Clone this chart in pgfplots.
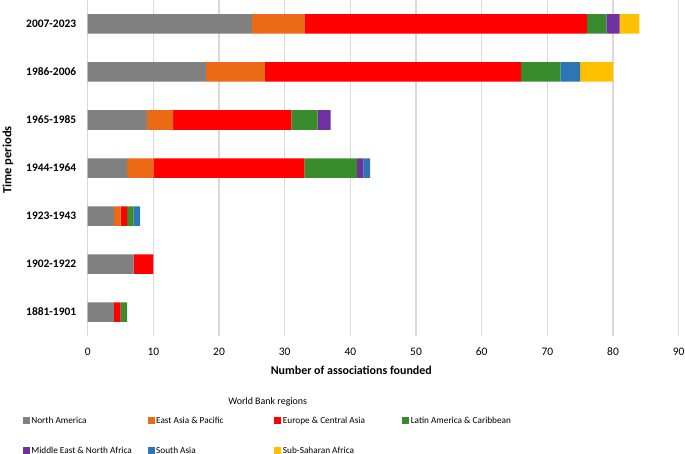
\documentclass[border=0pt]{standalone}
\usepackage{pgfplots}
\pgfplotsset{compat=1.18}
\usepackage{fontspec}
\setmainfont{Carlito}
\definecolor{cNA}{HTML}{808080}
\definecolor{cEA}{HTML}{EA6B14}
\definecolor{cEC}{HTML}{FF0000}
\definecolor{cLA}{HTML}{3A8A2E}
\definecolor{cME}{HTML}{7030A0}
\definecolor{cSA}{HTML}{2E75B6}
\definecolor{cSS}{HTML}{FFC000}
\begin{document}
\begin{tikzpicture}
\begin{axis}[
  xbar stacked,
  scale only axis,
  width=591bp, height=336bp,
  xmin=0, xmax=90,
  ymin=-0.5, ymax=6.5,
  bar width=19.5bp,
  ytick={0,1,2,3,4,5,6},
  yticklabels={1881-1901,1902-1922,1923-1943,1944-1964,1965-1985,1986-2006,2007-2023},
  yticklabel style={font=\fontsize{11.5}{13}\selectfont\bfseries, anchor=east, xshift=-8bp},
  xtick={0,10,...,90},
  xticklabel style={font=\fontsize{11.5}{13}\selectfont, anchor=center, yshift=-16bp},
  /pgf/number format/assume math mode=true,
  xmajorgrids,
  major grid style={draw=black!15, line width=1.1pt},
  axis line style={draw=none},
  major tick length=0pt,
  tick style={draw=none},
  xlabel={Number of associations founded},
  xlabel style={font=\fontsize{12}{14}\selectfont\bfseries, at={(axis description cs:0.446,-0.101)}, anchor=center},
  ylabel={Time periods},
  ylabel style={font=\fontsize{12.5}{14}\selectfont\bfseries, at={(axis description cs:-0.1349,0.524)}, anchor=center, rotate=0},
  every axis plot/.append style={draw=none, legend image code/.code={\fill (0bp,-3.5bp) rectangle (7bp,3.5bp);}},
  legend style={at={(axis description cs:-0.1151,-0.228)}, anchor=north west, draw=none, fill=none,
    legend columns=4, font=\fontsize{9.3}{11}\selectfont,
    nodes={inner xsep=1.5bp},
    /tikz/every odd column/.style={column sep=0bp},
    row sep=18bp},
  legend cell align=left,
]
\addplot[fill=cNA] coordinates {(4,0) (7,1) (4,2) (6,3) (9,4) (18,5) (25,6)};
\addplot[fill=cEA] coordinates {(0,0) (0,1) (1,2) (4,3) (4,4) (9,5) (8,6)};
\addplot[fill=cEC] coordinates {(1,0) (3,1) (1,2) (23,3) (18,4) (39,5) (43,6)};
\addplot[fill=cLA] coordinates {(1,0) (0,1) (1,2) (8,3) (4,4) (6,5) (3,6)};
\addplot[fill=cME] coordinates {(0,0) (0,1) (0,2) (1,3) (2,4) (0,5) (2,6)};
\addplot[fill=cSA] coordinates {(0,0) (0,1) (1,2) (1,3) (0,4) (3,5) (0,6)};
\addplot[fill=cSS] coordinates {(0,0) (0,1) (0,2) (0,3) (0,4) (5,5) (3,6)};
\legend{\makebox[114.8bp][l]{North America},\makebox[116.8bp][l]{East Asia \& Pacific},\makebox[117.8bp][l]{Europe \& Central Asia},Latin America \& Caribbean,Middle East \& North Africa,South Asia,Sub-Saharan Africa}
\end{axis}
\node[font=\fontsize{10}{12}\selectfont] at (180bp,-66bp) {World Bank regions};
\pgfresetboundingbox
\path[use as bounding box] (-87.7bp,-118bp) rectangle (597.3bp,336bp);
\end{tikzpicture}
\end{document}
